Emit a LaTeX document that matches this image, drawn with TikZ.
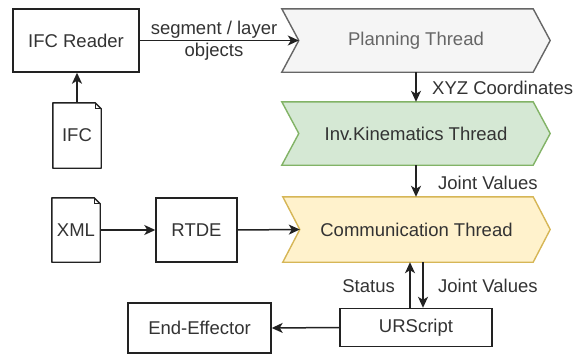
\documentclass[tikz,border=0pt]{standalone}
\usepackage{fontspec}
\setmainfont{Liberation Sans}
\usetikzlibrary{arrows.meta,backgrounds,calc}
\definecolor{plfill}{HTML}{F5F5F5}
\definecolor{plline}{HTML}{666666}
\definecolor{ikfill}{HTML}{D5E8D4}
\definecolor{ikline}{HTML}{82B366}
\definecolor{cmfill}{HTML}{FFF2CC}
\definecolor{cmline}{HTML}{D6B656}
\definecolor{ink}{HTML}{222222}
\definecolor{txt}{HTML}{333333}
\begin{document}
\begin{tikzpicture}[x=1pt,y=-1pt, font=\fontsize{18.5}{22}\selectfont, text=txt,
  box/.style={draw=ink, line width=1.4pt, fill=white, inner sep=0pt},
  slot/.style={inner sep=0pt},
  arr/.style={draw=ink, line width=1.5pt, -{Stealth[length=11pt,width=10pt,inset=3pt]}},
  lbl/.style={inner sep=0pt}]
\useasboundingbox (0,0) rectangle (579,356);

% nodes
\node[box, minimum width=126pt, minimum height=63pt] (reader) at (76,40.5) {IFC Reader};
\node[slot, minimum width=48pt, minimum height=65pt] (ifc) at (77,135.5) {IFC};
\node[slot, minimum width=48pt, minimum height=64pt] (xml) at (76,230) {XML};
\node[box, minimum width=81pt, minimum height=64pt] (rtde) at (196.5,230) {RTDE};
\node[box, minimum width=143pt, minimum height=50pt] (ee) at (199.5,328) {End-Effector};
\node[box, minimum width=152pt, minimum height=38pt] (ur) at (416,327.5) {URScript};

\node[slot, minimum width=268pt, minimum height=63pt, text=plline] (plan) at (416,40.5) {Planning Thread};
\node[slot, minimum width=268pt, minimum height=63pt] (inv) at (416,133.5) {Inv.Kinematics Thread};
\node[slot, minimum width=267pt, minimum height=65pt] (comm) at (416.5,229.5) {Communication Thread};

% shapes behind
\begin{scope}[on background layer]
\foreach \n/\f/\d in {plan/plfill/plline, inv/ikfill/ikline, comm/cmfill/cmline}
  \filldraw[fill=\f, draw=\d, line width=1.4pt, line join=miter]
    (\n.north west) -- ([xshift=-17pt]\n.north east) -- (\n.east)
    -- ([xshift=-17pt]\n.south east) -- (\n.south west) -- ([xshift=17pt]\n.west) -- cycle;
\foreach \n in {ifc,xml} {
  \filldraw[fill=white, draw=ink, line width=1.4pt, line join=round]
    (\n.north west) -- ([xshift=-6pt]\n.north east) -- ([yshift=-6pt]\n.north east)
    -- (\n.south east) -- (\n.south west) -- cycle;
  \draw[ink, line width=1pt]
    ([xshift=-6pt]\n.north east) -- ([xshift=-6pt,yshift=-6pt]\n.north east) -- ([yshift=-6pt]\n.north east);
}
\end{scope}

% connectors
\draw[arr] (reader.east) -- ([xshift=17pt]plan.west);
\node[lbl, align=center] (seglbl) at (214,41) {segment / layer\\objects};
\draw[arr, line width=2.6pt] (ifc.north) -- (ifc.north |- reader.south);
\draw[arr] (plan.south) -- (inv.north);
\draw[arr] (inv.south) -- (inv.south |- comm.north);
\draw[arr] (xml.east) -- (rtde.west);
\draw[arr] (rtde.east) -- ([xshift=17pt]comm.west);
\draw[arr] ([xshift=-6pt]ur.north) -- ([xshift=-6pt]ur.north |- comm.south);
\draw[arr] ([xshift=7pt]ur.north |- comm.south) -- ([xshift=7pt]ur.north);
\draw[arr] (ur.west) -- (ee.east);

% labels
\node[lbl, anchor=west] (xyz) at (432,88) {XYZ Coordinates};
\node[lbl, anchor=west] (jv1) at (438,183) {Joint Values};
\node[lbl, anchor=west] (jv2) at (438,286) {Joint Values};
\node[lbl, anchor=east] (st) at (395,286) {Status};
\end{tikzpicture}
\end{document}
